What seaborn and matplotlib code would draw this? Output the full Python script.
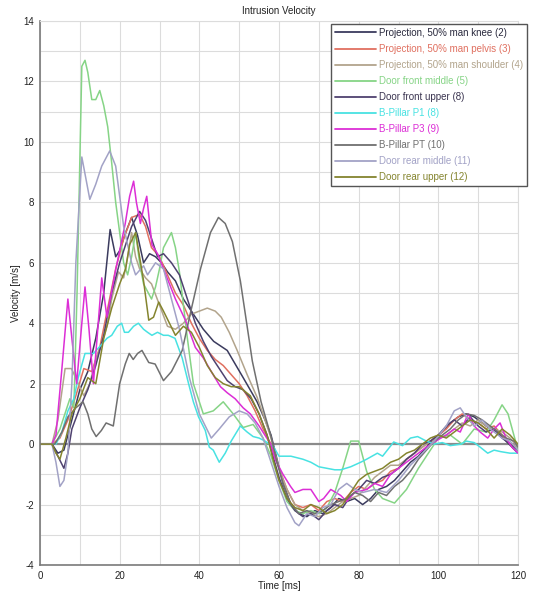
import pandas as pd
import numpy as np
import matplotlib
matplotlib.use('Agg')
import matplotlib.pyplot as plt
import seaborn as sns
from matplotlib.ticker import MultipleLocator

sns.set_theme(style="whitegrid")
plt.rcParams['font.family'] = ['Liberation Sans', 'DejaVu Sans']
plt.rcParams['axes.unicode_minus'] = False

# --- datos (tiempo en ms, velocidad en m/s) ---
knee_t = [0, 3, 4.5, 6, 8, 10, 12, 14, 16, 17.6, 19, 20, 21.5, 23, 24.5, 26, 27.5, 29, 30.5, 32, 34, 36, 39.5, 41, 43.6, 47, 51, 54.5, 56.5, 58, 59.5, 61, 63, 65, 67, 69, 71, 73, 75, 77, 79, 81, 83, 85, 87, 89, 91, 93, 95, 97, 99, 101, 103, 105, 107, 109, 111, 113, 115, 117, 120]
knee_v = [0, 0, -0.3, -0.2, 0.8, 1.8, 2.4, 3.5, 5.0, 7.1, 6.2, 6.4, 7.0, 7.5, 6.9, 6.0, 6.3, 6.2, 6.0, 5.7, 5.4, 4.8, 4.1, 3.8, 3.4, 3.1, 2.2, 1.4, 0.8, 0.3, -0.5, -1.3, -2.0, -2.3, -2.4, -2.2, -2.3, -2.1, -1.8, -1.9, -1.8, -2.0, -1.8, -1.5, -1.4, -1.2, -0.9, -0.6, -0.4, -0.1, 0.2, 0.4, 0.7, 0.9, 1.0, 0.9, 0.7, 0.5, 0.4, 0.1, -0.3]

pelvis_t = [0, 3, 5, 7, 9, 11, 13, 15, 17, 19, 21, 23, 25, 26.5, 28, 30, 32, 34, 36, 38, 40, 42, 44, 46, 48, 50, 52, 54, 56, 58, 60, 62, 64, 66, 68, 70, 72, 74, 76, 78, 80, 82, 84, 86, 88, 90, 92, 94, 96, 98, 100, 102, 104, 106, 108, 110, 112, 114, 116, 118, 120]
pelvis_v = [0, 0, 0.2, 0.8, 1.6, 2.5, 2.4, 3.2, 4.5, 5.8, 6.8, 7.5, 7.6, 7.2, 6.5, 6.2, 5.6, 5.0, 4.6, 4.0, 3.5, 3.1, 2.8, 2.6, 2.3, 2.0, 1.6, 1.1, 0.5, 0.0, -0.8, -1.5, -2.0, -2.1, -2.0, -2.2, -1.9, -1.8, -1.9, -1.6, -1.4, -1.5, -1.3, -1.2, -0.9, -0.8, -0.5, -0.3, -0.1, 0.1, 0.3, 0.5, 0.8, 1.0, 0.8, 0.7, 0.5, 0.6, 0.3, 0.0, -0.1]

shoulder_t = [0, 3, 4.5, 6.3, 7.9, 9.6, 11, 12.5, 14, 15.5, 17, 18, 19.7, 21, 22, 23, 24, 25, 26.5, 28, 30, 32, 34, 36, 38, 40, 42, 44, 45.5, 47.5, 49.5, 52, 54.5, 56.5, 58, 60, 62, 64, 66, 68, 70, 72, 74, 76, 78, 80, 82, 84, 86, 88, 90, 92, 94, 96, 98, 100, 102, 104, 106, 108, 110, 112, 114, 116, 118, 120]
shoulder_v = [0, 0, 0.8, 2.5, 2.5, 2.0, 1.6, 2.0, 2.8, 3.3, 4.0, 4.8, 5.7, 5.5, 6.2, 7.0, 6.2, 5.8, 5.5, 5.3, 4.6, 3.9, 3.8, 4.0, 4.3, 4.4, 4.5, 4.4, 4.2, 3.7, 3.1, 2.3, 1.55, 0.8, 0.2, -0.8, -1.5, -2.0, -2.2, -2.3, -2.4, -2.3, -2.1, -1.9, -1.8, -1.7, -1.4, -1.1, -0.9, -0.7, -0.7, -0.5, -0.3, -0.1, 0.1, 0.2, 0.3, 0.5, 0.7, 0.6, 0.8, 0.6, 0.5, 0.4, 0.2, -0.1]

dfm_t = [0, 3, 5, 7.5, 8.5, 9.3, 10.5, 11.3, 12, 13, 14, 15, 16, 17, 18, 19, 20, 21, 22, 23, 24, 25, 26, 28, 29, 30, 31, 33, 34, 35, 37, 38.5, 41, 43.5, 46, 48.5, 51, 53.5, 56, 58, 60, 62, 64, 66, 68, 70, 72, 74, 76, 78, 80, 82, 84, 86, 89, 92, 95, 98, 100, 103, 106, 109, 112, 114, 116, 117.5, 120]
dfm_v = [0, 0, 0.5, 1.5, 1.2, 5.0, 12.5, 12.7, 12.3, 11.4, 11.4, 11.7, 11.2, 10.5, 9.3, 8.0, 7.0, 6.0, 5.6, 6.2, 7.0, 6.0, 5.3, 4.8, 5.2, 5.8, 6.5, 7.0, 6.5, 5.7, 3.5, 2.0, 1.0, 1.1, 1.4, 1.0, 0.55, 0.65, 0.2, -0.4, -1.2, -1.9, -2.2, -2.3, -2.2, -2.3, -2.1, -1.6, -0.8, 0.1, 0.1, -0.9, -1.5, -1.8, -1.95, -1.5, -0.8, -0.2, 0.2, 0.3, 0.0, 0.5, 0.4, 0.8, 1.3, 1.0, -0.2]

dfu_t = [0, 3, 4.5, 6, 7, 8, 10, 12, 14, 16, 18, 20, 21.5, 23, 25, 26.5, 28, 29.5, 31, 33, 35, 37, 39, 41, 43, 45, 47, 49, 51, 53, 55, 57, 58.5, 60, 62, 64, 66, 68, 70, 72, 74, 76, 78, 80, 82, 84, 86, 88, 90, 92, 94, 96, 98, 100, 102, 104, 106, 108, 110, 112, 114, 116, 118, 120]
dfu_v = [0, 0, -0.4, -0.8, -0.3, 0.5, 1.2, 1.8, 2.6, 3.6, 5.0, 6.0, 6.6, 7.2, 7.7, 7.4, 6.8, 6.2, 6.3, 6.0, 5.6, 4.8, 4.0, 3.4, 2.9, 2.5, 2.1, 1.9, 1.8, 1.5, 1.0, 0.3, -0.4, -1.1, -1.8, -2.2, -2.4, -2.3, -2.5, -2.2, -2.0, -2.1, -1.7, -1.5, -1.2, -1.3, -1.1, -1.0, -0.8, -0.5, -0.3, 0.0, 0.1, 0.3, 0.6, 0.8, 0.6, 0.9, 0.6, 0.4, 0.5, 0.2, 0.0, -0.2]

p1_t = [0, 4, 5.5, 7, 8.5, 9.6, 11.3, 13.4, 15.5, 16.8, 18, 19.4, 20.5, 21.2, 22.2, 23.5, 24.7, 26, 27, 28.1, 29.5, 31, 32.2, 33.9, 35.7, 37.3, 38.5, 39.8, 41.5, 42.5, 43.5, 45, 46.5, 48, 50.3, 52, 53.5, 55, 56.5, 58.7, 60, 63, 66, 68, 70, 72, 74, 75.5, 78, 80.5, 82, 84.7, 86, 88.8, 91, 93, 94.8, 97, 99, 101, 103, 105.7, 107, 109, 110.5, 112.4, 114, 115.7, 118, 120]
p1_v = [0, 0, 0.4, 1.1, 1.5, 2.2, 3.0, 3.0, 3.3, 3.5, 3.6, 3.9, 4.0, 3.7, 3.7, 3.9, 4.0, 3.8, 3.7, 3.6, 3.7, 3.6, 3.6, 3.5, 2.85, 2.0, 1.4, 0.9, 0.45, -0.1, -0.2, -0.6, -0.3, 0.1, 0.6, 0.4, 0.25, 0.2, 0.1, -0.1, -0.4, -0.4, -0.5, -0.6, -0.75, -0.8, -0.85, -0.85, -0.75, -0.6, -0.5, -0.3, -0.4, 0.07, -0.05, 0.2, 0.25, 0.1, 0.0, 0.05, -0.05, 0.0, 0.1, 0.05, -0.1, -0.3, -0.2, -0.25, -0.3, -0.3]

p3_t = [0, 3, 4, 5.5, 7, 8, 9.2, 10.5, 11.3, 12.3, 13.4, 14.5, 15.5, 16.8, 18.9, 20, 21.4, 22.5, 23.5, 24.2, 25.2, 26, 26.8, 28.1, 29.5, 31, 32.2, 34, 36.5, 39, 41, 43, 45.3, 47, 49, 51, 52.8, 55, 57.9, 59, 61, 62.9, 64, 66, 68, 70, 71.2, 73, 75.5, 77, 79, 82, 84, 86, 88, 90, 92, 95, 97, 100, 102, 104, 105.5, 107.5, 109, 110.5, 112.4, 114, 115.5, 117, 118.5, 120]
p3_v = [0, 0, 0.3, 2.5, 4.8, 3.5, 2.0, 4.0, 5.2, 3.8, 2.0, 3.8, 5.5, 4.2, 5.7, 6.4, 7.3, 8.2, 8.7, 8.0, 7.3, 7.8, 8.2, 6.6, 6.3, 5.8, 5.4, 4.8, 4.1, 3.2, 2.85, 2.4, 1.9, 1.7, 1.5, 1.2, 1.0, 0.6, 0.0, -0.5, -1.0, -1.4, -1.6, -1.5, -1.5, -1.9, -1.8, -1.5, -1.7, -1.9, -1.6, -1.5, -1.3, -1.4, -1.0, -0.8, -0.6, -0.3, -0.1, 0.15, 0.3, 0.5, 0.4, 1.0, 0.6, 0.4, 0.2, 0.5, 0.7, 0.2, -0.1, -0.3]

pt_t = [0, 3.7, 5.5, 7, 9, 10.8, 12, 13, 14.1, 15.4, 16.6, 18.4, 20, 21.4, 22.4, 23.4, 24.5, 25.6, 27.3, 28.9, 31, 33, 35.7, 37.7, 40.3, 42.8, 44.8, 46.5, 48.3, 50.3, 53.3, 55.5, 57.9, 59.5, 61, 63, 65, 67, 69, 71, 73, 75, 77, 79, 81, 83, 85, 87, 89, 91, 93, 95, 97, 99, 101, 103, 105, 107, 109, 111, 113, 115, 117, 119, 120]
pt_v = [0, 0, 0.4, 0.9, 1.2, 1.4, 1.0, 0.5, 0.25, 0.45, 0.7, 0.6, 2.0, 2.65, 3.0, 2.8, 3.0, 3.1, 2.7, 2.65, 2.1, 2.4, 3.1, 4.3, 5.8, 7.0, 7.5, 7.3, 6.7, 5.4, 2.75, 1.4, 0.3, -0.6, -1.3, -2.0, -2.3, -2.2, -2.3, -2.2, -2.0, -1.9, -1.8, -1.6, -1.7, -1.9, -1.6, -1.7, -1.4, -1.2, -0.9, -0.5, -0.2, 0.1, 0.3, 0.5, 0.8, 1.0, 0.95, 0.8, 0.6, 0.4, 0.2, 0.1, -0.1]

drm_t = [0, 3, 4, 5, 6, 7, 8, 9, 10.5, 11.5, 12.5, 14, 15.5, 17.5, 19, 20, 21, 22, 23, 24, 26, 27, 29, 31, 33, 35, 37.5, 40, 43, 45, 47.5, 50, 52, 54, 56, 58, 60, 62, 64, 65, 67, 69, 71, 73, 75, 77, 79, 81, 84, 87, 90, 93, 96, 99, 102, 104, 105.5, 107, 109, 111, 113, 116, 118, 120]
drm_v = [0, 0, -0.6, -1.4, -1.2, -0.3, 2.0, 6.0, 9.5, 8.8, 8.1, 8.6, 9.2, 9.7, 9.2, 8.2, 7.2, 6.6, 6.0, 5.6, 5.9, 5.6, 6.0, 5.8, 4.8, 3.8, 2.2, 1.0, 0.2, 0.5, 0.9, 1.1, 1.0, 0.7, 0.2, -0.6, -1.4, -2.1, -2.6, -2.7, -2.3, -2.4, -2.1, -2.0, -1.5, -1.3, -1.5, -1.6, -1.5, -1.6, -1.2, -0.7, -0.3, 0.1, 0.6, 1.1, 1.2, 0.9, 0.6, 0.8, 0.5, 0.2, 0.1, -0.2]

dru_t = [0, 3, 4, 5, 6.5, 8, 10, 12, 14, 16, 18, 20, 21.5, 22.5, 24, 26, 27.3, 28.5, 29.8, 31, 32.5, 34, 36, 38, 40, 42, 44, 46, 48, 50, 52.8, 55, 57, 58.5, 60, 62, 64, 66, 68, 70, 72, 74, 76, 78, 80, 82, 84, 86, 88, 90, 92, 94, 96, 98, 100, 102, 104, 106, 108, 110, 112, 114, 116, 118, 120]
dru_v = [0, 0, -0.3, -0.5, 0.2, 1.0, 1.5, 2.2, 2.0, 3.5, 4.5, 5.3, 5.8, 6.6, 7.0, 5.4, 4.1, 4.2, 4.7, 4.4, 4.0, 3.6, 3.9, 3.7, 3.2, 2.6, 2.2, 2.0, 1.9, 1.9, 1.6, 1.0, 0.3, -0.5, -1.2, -1.8, -2.1, -2.2, -2.0, -2.1, -2.3, -2.2, -2.0, -1.6, -1.2, -1.0, -0.9, -0.8, -0.6, -0.5, -0.3, -0.2, 0.0, 0.2, 0.3, 0.2, 0.4, 0.6, 0.8, 0.7, 0.5, 0.2, 0.5, 0.3, 0.0]

series_names = [
    'Projection, 50% man knee (2)',
    'Projection, 50% man pelvis (3)',
    'Projection, 50% man shoulder (4)',
    'Door front middle (5)',
    'Door front upper (8)',
    'B-Pillar P1 (8)',
    'B-Pillar P3 (9)',
    'B-Pillar PT (10)',
    'Door rear middle (11)',
    'Door rear upper (12)',
]
series_colors = ['#3b3b5e', '#e07060', '#b2a48c', '#86d486', '#4f4270',
                 '#48e2e2', '#dc2ed6', '#707070', '#a2a2c6', '#84842e']
series_t = [knee_t, pelvis_t, shoulder_t, dfm_t, dfu_t, p1_t, p3_t, pt_t, drm_t, dru_t]
series_v = [knee_v, pelvis_v, shoulder_v, dfm_v, dfu_v, p1_v, p3_v, pt_v, drm_v, dru_v]

# tabla larga para seaborn
frames = []
for name, t, v in zip(series_names, series_t, series_v):
    frames.append(pd.DataFrame({'time': t, 'vel': v, 'serie': name}))
df = pd.concat(frames, ignore_index=True)
palette = dict(zip(series_names, series_colors))

fig = plt.figure(figsize=(5.33, 5.92), dpi=100)
ax = fig.add_axes([40 / 533, 1 - 565 / 592, 478 / 533, 544 / 592])

# linea del cero
ax.axhline(0, color='#8a8a8a', lw=1.6, zorder=1)

sns.lineplot(data=df, x='time', y='vel', hue='serie', hue_order=series_names,
             palette=palette, sort=False, estimator=None, lw=1.1, ax=ax, legend=False)

ax.set_xlim(0, 120)
ax.set_ylim(-4, 14)
ax.xaxis.set_major_locator(MultipleLocator(20))
ax.xaxis.set_minor_locator(MultipleLocator(10))
ax.yaxis.set_major_locator(MultipleLocator(2))
ax.yaxis.set_minor_locator(MultipleLocator(1))
ax.grid(which='both', color='#dcdcdc', lw=0.8)
ax.set_facecolor('white')

for side in ['left', 'bottom']:
    ax.spines[side].set_color('#7a7a7a')
    ax.spines[side].set_linewidth(1.2)
for side in ['top', 'right']:
    ax.spines[side].set_color('#dcdcdc')
    ax.spines[side].set_linewidth(0.8)

ax.tick_params(axis='both', which='major', labelsize=7, length=3, pad=1,
               color='#7a7a7a', labelcolor='#222222')
ax.tick_params(axis='both', which='minor', length=0)

ax.set_title('Intrusion Velocity', fontsize=7, pad=5, color='#222222')
ax.set_xlabel('Time [ms]', fontsize=7, labelpad=0, color='#222222')
ax.set_ylabel('Velocity [m/s]', fontsize=7, labelpad=2, color='#222222')

handles = [plt.Line2D([], [], color=c, lw=1.3) for c in series_colors]
leg = ax.legend(handles, series_names, loc='upper right',
                bbox_to_anchor=(527 / 533, 1 - 24 / 592), bbox_transform=fig.transFigure,
                fontsize=7, frameon=True, fancybox=False, framealpha=1,
                handlelength=4.2, handletextpad=0.3, labelspacing=0.62,
                borderpad=0.4, borderaxespad=0)
leg.get_frame().set_edgecolor('#555555')
leg.get_frame().set_linewidth(1.0)
for txt, c in zip(leg.get_texts(), series_colors):
    txt.set_color(c)
leg.get_texts()[0].set_color('#2a2a3e')
leg.get_texts()[4].set_color('#3a3450')

fig.savefig('out.png', dpi=100)
